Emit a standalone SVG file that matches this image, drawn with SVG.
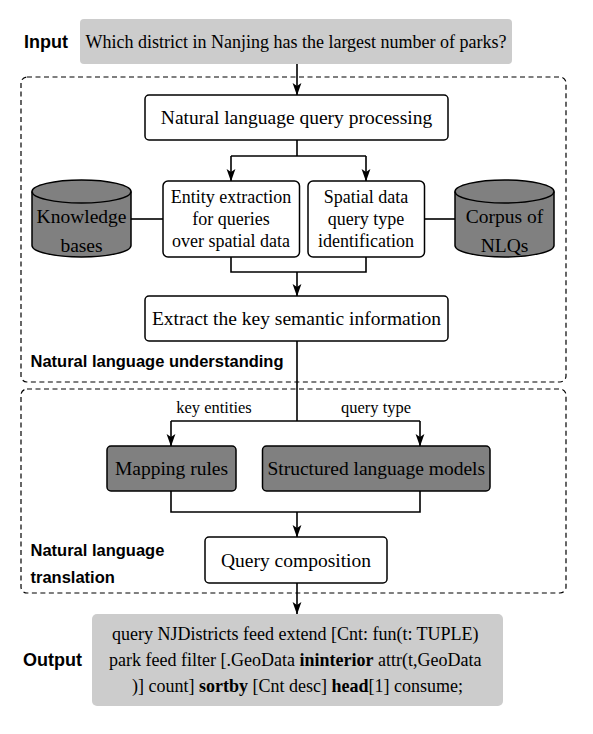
<svg xmlns="http://www.w3.org/2000/svg" width="593" height="734" viewBox="0 0 593 734">
<defs>
<style>
.serif{font-family:"Liberation Serif","Times New Roman",serif;fill:#000}
.sans{font-family:"Liberation Sans",Arial,sans-serif;font-weight:bold;fill:#000}
.box{fill:#fff;stroke:#000;stroke-width:1.5}
.dark{fill:#808080;stroke:#000;stroke-width:1.5}
.light{fill:#cccccc;stroke:none}
.dash{fill:none;stroke:#000;stroke-width:1.2;stroke-dasharray:5 3.5}
.wire{fill:none;stroke:#000;stroke-width:1.6}
</style>
<marker id="arr" markerUnits="userSpaceOnUse" markerWidth="14" markerHeight="10" refX="12" refY="5" orient="auto" viewBox="0 0 14 10">
<path d="M0,0.6 L12.5,5 L0,9.4 L3,5 Z" fill="#000"/>
</marker>
</defs>
<rect width="593" height="734" fill="#fff"/>

<g id="section-understanding">
<rect class="dash" x="21" y="77" width="545" height="305" rx="6"/>
<text class="sans" x="30.5" y="367" font-size="16.5">Natural language understanding</text>
</g>
<g id="section-translation">
<rect class="dash" x="21" y="389" width="545" height="204" rx="6"/>
<text class="sans" x="30.5" y="556" font-size="16.5">Natural language</text>
<text class="sans" x="30.5" y="582.5" font-size="16.5">translation</text>
</g>

<g id="connectors">
<path class="wire" d="M297,64 V95" marker-end="url(#arr)"/>
<path class="wire" d="M297,140 V156"/>
<path class="wire" d="M231,156 H366"/>
<path class="wire" d="M231,156 V181" marker-end="url(#arr)"/>
<path class="wire" d="M366,156 V181" marker-end="url(#arr)"/>
<path class="wire" d="M131,219 H163"/>
<path class="wire" d="M424,219 H455"/>
<path class="wire" d="M231,257 V272 H366 V257"/>
<path class="wire" d="M297,272 V296" marker-end="url(#arr)"/>
<path class="wire" d="M297,341 V421"/>
<path class="wire" d="M171,421 H420"/>
<path class="wire" d="M171,421 V446" marker-end="url(#arr)"/>
<path class="wire" d="M420,421 V446" marker-end="url(#arr)"/>
<path class="wire" d="M171,491 V512 H420 V491"/>
<path class="wire" d="M297,512 V537" marker-end="url(#arr)"/>
<path class="wire" d="M297,583 V614" marker-end="url(#arr)"/>
<text class="serif" x="214" y="413" font-size="16.5" text-anchor="middle">key entities</text>
<text class="serif" x="376" y="413" font-size="16.5" text-anchor="middle">query type</text>
</g>

<g id="input">
<text class="sans" x="24" y="48" font-size="18">Input</text>
<rect class="light" x="80" y="19" width="432" height="45" rx="4"/>
<text class="serif" x="296" y="48" font-size="18" text-anchor="middle">Which district in Nanjing has the largest number of parks?</text>
</g>

<g id="nlq-processing">
<rect class="box" x="145" y="95" width="303" height="45" rx="4"/>
<text class="serif" x="296.5" y="124" font-size="19.5" text-anchor="middle">Natural language query processing</text>
</g>

<g id="entity-extraction">
<rect class="box" x="163" y="181" width="136.5" height="76" rx="5"/>
<text class="serif" font-size="18" text-anchor="middle"><tspan x="231" y="203">Entity extraction</tspan><tspan x="231" y="225">for queries</tspan><tspan x="231" y="247">over spatial data</tspan></text>
</g>

<g id="query-type-identification">
<rect class="box" x="308" y="181" width="116.5" height="76" rx="5"/>
<text class="serif" font-size="18" text-anchor="middle"><tspan x="366" y="203">Spatial data</tspan><tspan x="366" y="225">query type</tspan><tspan x="366" y="247">identification</tspan></text>
</g>

<g id="knowledge-bases">
<path class="dark" d="M32,191.5 A49.5,11.5 0 0 1 131,191.5 V245.5 A49.5,11.5 0 0 1 32,245.5 Z"/>
<path class="wire" style="stroke-width:1.5" d="M32,191.5 A49.5,11.5 0 0 0 131,191.5"/>
<text class="serif" font-size="19.5" text-anchor="middle"><tspan x="81.5" y="223">Knowledge</tspan><tspan x="81.5" y="252">bases</tspan></text>
</g>

<g id="corpus-of-nlqs">
<path class="dark" d="M455,191.5 A49.5,11.5 0 0 1 554,191.5 V245.5 A49.5,11.5 0 0 1 455,245.5 Z"/>
<path class="wire" style="stroke-width:1.5" d="M455,191.5 A49.5,11.5 0 0 0 554,191.5"/>
<text class="serif" font-size="19.5" text-anchor="middle"><tspan x="504.5" y="223">Corpus of</tspan><tspan x="504.5" y="252">NLQs</tspan></text>
</g>

<g id="extract-semantic">
<rect class="box" x="145" y="296" width="303" height="45" rx="4"/>
<text class="serif" x="296.5" y="324.5" font-size="19.5" text-anchor="middle">Extract the key semantic information</text>
</g>

<g id="mapping-rules">
<rect class="dark" x="107" y="446" width="129" height="45" rx="4"/>
<text class="serif" x="171.5" y="475" font-size="19.5" text-anchor="middle">Mapping rules</text>
</g>

<g id="structured-language-models">
<rect class="dark" x="262.5" y="446" width="227.5" height="45" rx="4"/>
<text class="serif" x="376.3" y="475" font-size="19.5" text-anchor="middle">Structured language models</text>
</g>

<g id="query-composition">
<rect class="box" x="205" y="537" width="182" height="46" rx="4"/>
<text class="serif" x="296" y="566.5" font-size="19.5" text-anchor="middle">Query composition</text>
</g>

<g id="output">
<text class="sans" x="23" y="665.5" font-size="18">Output</text>
<rect class="light" x="92" y="614" width="411" height="92" rx="5"/>
<text class="serif" font-size="18" text-anchor="middle">
<tspan x="297.5" y="640">query NJDistricts feed extend [Cnt: fun(t: TUPLE)</tspan>
<tspan x="297.5" y="666">park feed filter [.GeoData <tspan font-weight="bold">ininterior</tspan> attr(t,GeoData</tspan>
<tspan x="297.5" y="692">)] count] <tspan font-weight="bold">sortby</tspan> [Cnt desc] <tspan font-weight="bold">head</tspan>[1] consume;</tspan>
</text>
</g>
</svg>
